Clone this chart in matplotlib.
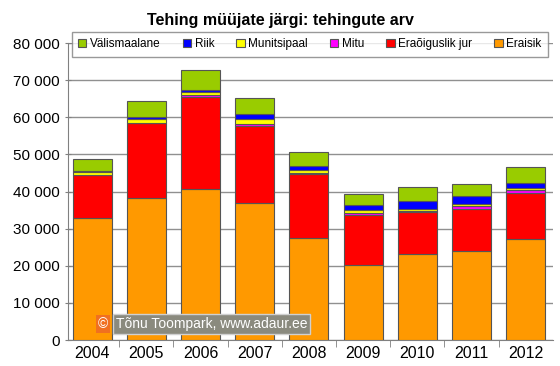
import matplotlib.pyplot as plt
import numpy as np

plt.rcParams['font.family'] = ['Liberation Sans', 'DejaVu Sans']

years = ['2004', '2005', '2006', '2007', '2008', '2009', '2010', '2011', '2012']

# stacked from the bottom up
eraisik = [33000, 38400, 40600, 36800, 27500, 20300, 23200, 24100, 27100]
eraoiguslik = [11500, 20000, 24900, 21000, 17200, 13500, 11400, 11300, 12400]
mitu = [100, 200, 500, 550, 300, 300, 300, 700, 900]
munitsipaal = [600, 1100, 900, 1100, 700, 900, 500, 600, 550]
riik = [250, 300, 550, 1400, 1100, 1300, 2150, 2000, 1400]
valismaalane = [3250, 4400, 5200, 4500, 4000, 3000, 3800, 3400, 4300]

series = [
    ('Eraisik', eraisik, '#FF9900'),
    ('Eraõiguslik jur', eraoiguslik, '#FF0000'),
    ('Mitu', mitu, '#FF00FF'),
    ('Munitsipaal', munitsipaal, '#FFFF00'),
    ('Riik', riik, '#0000FF'),
    ('Välismaalane', valismaalane, '#99CC00'),
]

fig = plt.figure(figsize=(5.6, 3.66), dpi=100)
ax = fig.add_axes([0.121, 0.071, 0.866, 0.811])

x = np.arange(len(years))
bottom = np.zeros(len(years))
handles = []
for name, vals, col in series:
    b = ax.bar(x, vals, 0.72, bottom=bottom, color=col, edgecolor='#555555',
               linewidth=0.8, label=name, zorder=3)
    handles.append(b)
    bottom += np.array(vals)

ax.set_ylim(0, 80000)
ax.set_xlim(-0.45, 8.5)
ax.set_yticks(range(0, 80001, 10000))
ax.set_yticklabels([f'{v:,}'.replace(',', ' ') for v in range(0, 80001, 10000)],
                   fontsize=11)
ax.set_xticks(x)
ax.set_xticklabels(years, fontsize=11.5)
ax.tick_params(axis='x', length=0, pad=4)
ax.set_xticks(np.arange(0.5, 8, 1), minor=True)
ax.tick_params(axis='x', which='minor', length=5, direction='out', color='#808080')
ax.tick_params(axis='y', length=4, direction='inout', color='#808080')
ax.grid(axis='y', color='#909090', linewidth=1, zorder=0)

for s in ['top', 'right']:
    ax.spines[s].set_visible(False)
for s in ['left', 'bottom']:
    ax.spines[s].set_color('#808080')

fig.suptitle('Tehing müüjate järgi: tehingute arv', fontsize=11.5,
             fontweight='bold', y=0.965, x=0.5)

leg = ax.legend(handles[::-1], [s[0] for s in series][::-1], ncol=6,
                loc='center', bbox_to_anchor=(0.008, 0.96, 0.982, 0.074),
                mode='expand', fontsize=8.5, frameon=True, fancybox=False,
                handlelength=0.7, handleheight=0.7, handletextpad=0.3,
                columnspacing=1.0, borderpad=0.55, borderaxespad=0)
leg.get_frame().set_edgecolor('#808080')
leg.get_frame().set_linewidth(1)
leg.set_zorder(10)

# copyright box
fig.text(0.175, 0.115, '©', fontsize=10, color='white', va='center', ha='left',
         bbox=dict(boxstyle='square,pad=0.15', facecolor='#F07020', edgecolor='none'),
         zorder=6)
fig.text(0.207, 0.115, 'Tõnu Toompark, www.adaur.ee', fontsize=10, color='white',
         va='center', ha='left',
         bbox=dict(boxstyle='square,pad=0.2', facecolor='#8A8A7E', edgecolor='#D0D0D0'),
         zorder=5)

fig.savefig('out.png', dpi=100, facecolor='white')
